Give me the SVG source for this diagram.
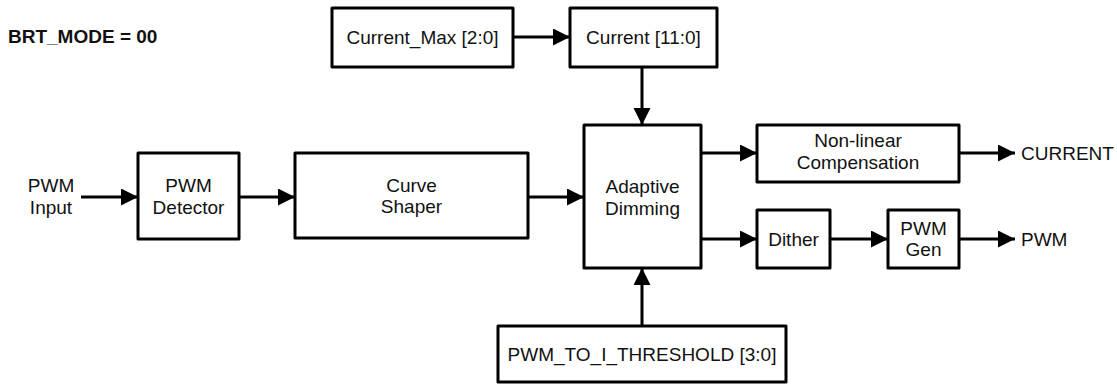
<svg xmlns="http://www.w3.org/2000/svg" width="1117" height="384" viewBox="0 0 1117 384">
  <defs>
    <style>
      .box { fill: #ffffff; stroke: #000000; stroke-width: 3; stroke-linejoin: round; }
      .wire { fill: none; stroke: #000000; stroke-width: 3; marker-end: url(#arrow); }
      .lbl { font-family: "Liberation Sans", Arial, sans-serif; font-size: 19px; fill: #111111; text-anchor: middle; }
      .pin { font-family: "Liberation Sans", Arial, sans-serif; font-size: 19px; fill: #111111; text-anchor: start; }
      .title { font-family: "Liberation Sans", Arial, sans-serif; font-size: 19px; font-weight: bold; fill: #111111; }
    </style>
    <marker id="arrow" markerUnits="userSpaceOnUse" markerWidth="18" markerHeight="18" refX="17" refY="8.5" orient="auto">
      <path d="M0,0 L17,8.5 L0,17 Z" fill="#000000"/>
    </marker>
  </defs>

  <rect width="1117" height="384" fill="#ffffff"/>

  <text class="title" x="8" y="43">BRT_MODE = 00</text>

  <!-- Signal connectors -->
  <g id="connectors">
    <line class="wire" x1="81" y1="197" x2="138" y2="197"/>
    <line class="wire" x1="239" y1="197" x2="295" y2="197"/>
    <line class="wire" x1="528" y1="197" x2="584" y2="197"/>
    <line class="wire" x1="513" y1="37" x2="570" y2="37"/>
    <line class="wire" x1="642" y1="67" x2="642" y2="125"/>
    <line class="wire" x1="642" y1="326" x2="642" y2="268"/>
    <line class="wire" x1="701" y1="153" x2="757" y2="153"/>
    <line class="wire" x1="701" y1="239" x2="757" y2="239"/>
    <line class="wire" x1="830" y1="239" x2="888" y2="239"/>
    <line class="wire" x1="959" y1="153" x2="1015" y2="153"/>
    <line class="wire" x1="959" y1="239" x2="1015" y2="239"/>
  </g>

  <!-- Input / output pins -->
  <g id="pwm-input">
    <text class="lbl" x="51" y="192">PWM</text>
    <text class="lbl" x="51" y="214">Input</text>
  </g>
  <g id="current-out">
    <text class="pin" x="1021" y="160">CURRENT</text>
  </g>
  <g id="pwm-out">
    <text class="pin" x="1021" y="246">PWM</text>
  </g>

  <!-- Blocks -->
  <g id="current-max">
    <rect class="box" x="332" y="8" width="181" height="59"/>
    <text class="lbl" x="422.5" y="44">Current_Max [2:0]</text>
  </g>
  <g id="current">
    <rect class="box" x="570" y="8" width="147" height="59"/>
    <text class="lbl" x="643.5" y="44">Current [11:0]</text>
  </g>
  <g id="pwm-detector">
    <rect class="box" x="138" y="153" width="101" height="86"/>
    <text class="lbl" x="188.5" y="192">PWM</text>
    <text class="lbl" x="188.5" y="214">Detector</text>
  </g>
  <g id="curve-shaper">
    <rect class="box" x="295" y="153" width="233" height="85"/>
    <text class="lbl" x="411.5" y="192">Curve</text>
    <text class="lbl" x="411.5" y="213">Shaper</text>
  </g>
  <g id="adaptive-dimming">
    <rect class="box" x="584" y="125" width="117" height="143"/>
    <text class="lbl" x="642.5" y="193">Adaptive</text>
    <text class="lbl" x="642.5" y="215">Dimming</text>
  </g>
  <g id="nonlinear-comp">
    <rect class="box" x="757" y="125" width="202" height="57"/>
    <text class="lbl" x="858" y="146.5">Non-linear</text>
    <text class="lbl" x="858" y="169">Compensation</text>
  </g>
  <g id="dither">
    <rect class="box" x="757" y="210" width="73" height="58"/>
    <text class="lbl" x="793.5" y="246">Dither</text>
  </g>
  <g id="pwm-gen">
    <rect class="box" x="888" y="210" width="71" height="58"/>
    <text class="lbl" x="923.5" y="235">PWM</text>
    <text class="lbl" x="923.5" y="256">Gen</text>
  </g>
  <g id="pwm-to-i-threshold">
    <rect class="box" x="498" y="326" width="288" height="56"/>
    <text class="lbl" x="642" y="361">PWM_TO_I_THRESHOLD [3:0]</text>
  </g>
</svg>
